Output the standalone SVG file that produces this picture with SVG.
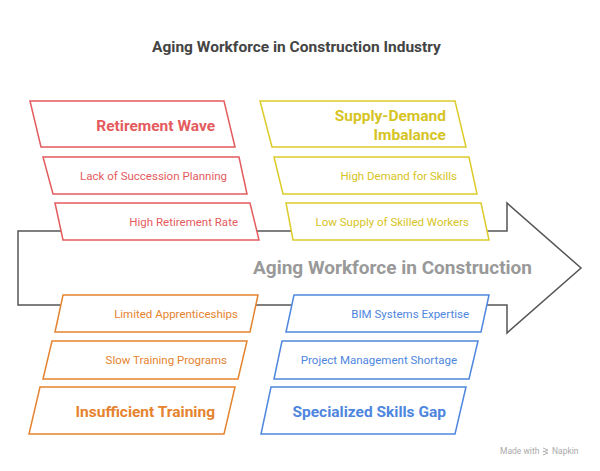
<svg xmlns="http://www.w3.org/2000/svg" width="600" height="471" viewBox="0 0 600 471">
<style>
text{font-family:Roboto,"Liberation Sans",Arial,sans-serif}
.box{fill:#fff;stroke-width:1.5;stroke-linejoin:miter}
.r .box{stroke:#E45B5E}.r text{fill:#E45B5E}
.y .box{stroke:#DCCB2A}.y text{fill:#D6C424}
.o .box{stroke:#E5832F}.o text{fill:#E5832F}
.b .box{stroke:#4E86DE}.b text{fill:#4E86DE}
.h{font-size:15.5px;font-weight:700;text-anchor:end}
.s{font-size:11.5px;text-anchor:end}
</style>
<rect width="600" height="471" fill="#fff"/>
<text x="296.5" y="51.5" font-size="15.5" font-weight="700" fill="#444" text-anchor="middle">Aging Workforce in Construction Industry</text>
<g id="connectors">
<g id="main-arrow">
<path d="M18,231 H507 V203 L581,268 L507,333 V305 H18 Z" fill="#fff" stroke="#555" stroke-width="1.5" stroke-linejoin="miter"/>
<text x="392.5" y="274" font-size="19" font-weight="700" fill="#999" text-anchor="middle">Aging Workforce in Construction</text>
</g>
</g>
<g id="retirement-wave" class="r"><path class="box" d="M30,101 H224 L235,147 H41 Z"/><text class="h" x="215" y="130.5">Retirement Wave</text></g>
<g id="lack-succession" class="r"><path class="box" d="M43,157 H239 L247,194 H53 Z"/><text class="s" x="227" y="179.5">Lack of Succession Planning</text></g>
<g id="high-retirement" class="r"><path class="box" d="M55,203 H250 L259,240 H63 Z"/><text class="s" x="238" y="225.5">High Retirement Rate</text></g>
<g id="supply-demand" class="y"><path class="box" d="M260,101 H455 L466,147 H272 Z"/><text class="h" x="446" y="120.5">Supply-Demand</text><text class="h" x="446" y="139.5">Imbalance</text></g>
<g id="high-demand" class="y"><path class="box" d="M274,157 H469 L477,194 H283 Z"/><text class="s" x="457" y="179.5">High Demand for Skills</text></g>
<g id="low-supply" class="y"><path class="box" d="M286,203 H481 L489,240 H293 Z"/><text class="s" x="469" y="225.5">Low Supply of Skilled Workers</text></g>
<g id="limited-apprenticeships" class="o"><path class="box" d="M63,295 H258 L250,332 H55 Z"/><text class="s" x="238" y="317.5">Limited Apprenticeships</text></g>
<g id="slow-training" class="o"><path class="box" d="M52,341 H247 L238,379 H43 Z"/><text class="s" x="227" y="364">Slow Training Programs</text></g>
<g id="insufficient-training" class="o"><path class="box" d="M40,387 H235 L224,434 H29 Z"/><text class="h" x="215" y="416.5">Insufficient Training</text></g>
<g id="bim-expertise" class="b"><path class="box" d="M294,295 H489 L481,332 H286 Z"/><text class="s" x="469" y="317.5">BIM Systems Expertise</text></g>
<g id="project-management" class="b"><path class="box" d="M282,341 H478 L469,379 H274 Z"/><text class="s" x="457" y="364">Project Management Shortage</text></g>
<g id="specialized-skills" class="b"><path class="box" d="M271,387 H466 L455,434 H261 Z"/><text class="h" x="446" y="416.5">Specialized Skills Gap</text></g>
<g id="watermark" fill="#aaa" font-size="8.5">
<text x="500" y="454" font-family="Roboto,sans-serif">Made with</text>
<path d="M543,448 l5,2 l-5,2 M543,451 l5,2 l-5,2" stroke="#aaa" stroke-width="0.9" fill="none"/>
<text x="552" y="454" font-family="Roboto,sans-serif">Napkin</text>
</g>
</svg>
